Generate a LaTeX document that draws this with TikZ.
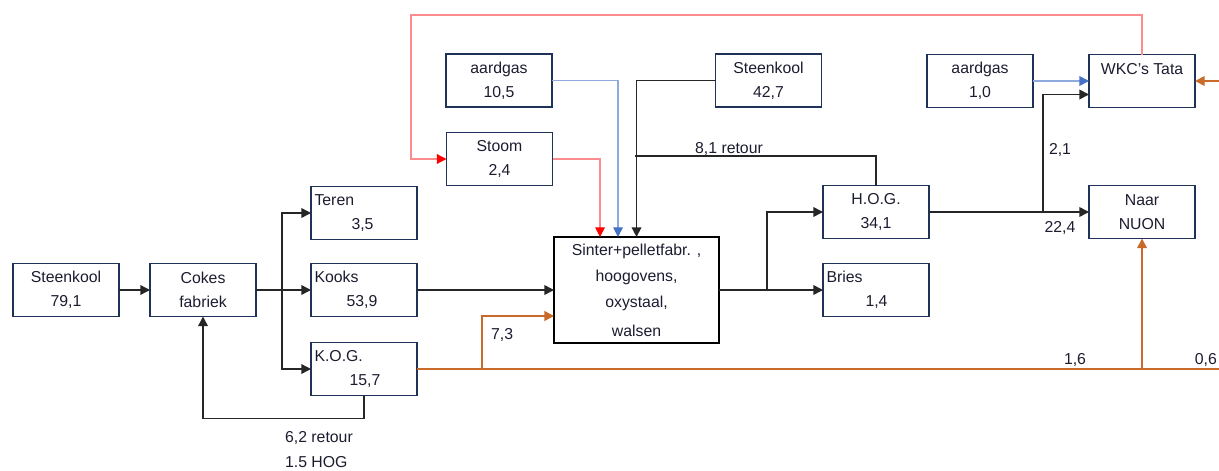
\documentclass[tikz,border=0pt]{standalone}
\usepackage{fontspec}
\setmainfont{Liberation Sans}
\usepackage{xcolor}
\usetikzlibrary{arrows.meta,positioning}

\definecolor{boxblue}{HTML}{1F3358}
\definecolor{txtdark}{HTML}{1C1C30}
\definecolor{flowred}{HTML}{FF8C8C}
\definecolor{flowblue}{HTML}{8FAADC}
\definecolor{tipblue}{HTML}{4472C4}
\definecolor{floworange}{HTML}{C96A2B}
\definecolor{flowgray}{HTML}{262626}

\begin{document}
\begin{tikzpicture}[
  node distance=0.5cm and 0.6cm,
  box/.style={draw=boxblue, line width=1.1pt, outer sep=0pt, minimum width=2.12cm, minimum height=1.06cm, align=center, text=txtdark, font=\fontsize{9}{13.5}\selectfont, inner sep=2pt},
  lbox/.style={box, align=left, text width=1.98cm},
  lbl/.style={font=\fontsize{9}{11}\selectfont, text=txtdark, inner sep=1pt},
  arr/.style={-{Triangle[length=5.5pt,width=5.5pt]}, line width=0.8pt, flowgray},
  line/.style={line width=0.8pt, flowgray},
  rarr/.style={-{Triangle[length=5.5pt,width=5.5pt,color=red]}, line width=0.7pt, flowred},
  barr/.style={-{Triangle[length=5.5pt,width=5.5pt,color=tipblue]}, line width=0.7pt, flowblue},
  oarr/.style={-{Triangle[length=5.5pt,width=5.5pt]}, line width=1.1pt, floworange},
  oline/.style={line width=1.1pt, floworange}
]
  \useasboundingbox (0,0) rectangle (24.38,9.4);

  % cokes side
  \node[box] (stk1) at (1.32,3.6) {Steenkool\\79,1};
  \node[box, right=0.62cm of stk1] (cokes) {Cokes\\fabriek};
  \node[lbox, right=1.1cm of cokes] (kooks) {Kooks\\\hspace*{0.64cm}53,9};
  \node[lbox, above=0.48cm of kooks] (teren) {Teren\\\hspace*{0.74cm}3,5};
  \node[lbox, below=0.52cm of kooks] (kog) {K.O.G.\\\hspace*{0.70cm}15,7};

  % steel works
  \node[box, draw=black, line width=1.6pt, minimum width=3.3cm, minimum height=2.12cm, font=\fontsize{9}{15}\selectfont, right=2.74cm of kooks] (sinter) {Sinter+pelletfabr. ,\\hoogovens,\\oxystaal,\\[1pt]walsen};
  \node[lbox, right=2.08cm of sinter] (bries) {Bries\\\hspace*{0.78cm}1,4};
  \node[box, above=0.5cm of bries] (hog) {H.O.G.\\34,1};
  \node[box, right=3.2cm of hog] (naar) {Naar\\NUON};
  \node[box, above=1.56cm of naar] (wkc) {WKC's Tata\\\mbox{}};
  \node[box, left=1.12cm of wkc] (gas2) {aardgas\\1,0};
  \node[box] (stk2) at (15.37,7.79) {Steenkool\\42,7};
  \node[box] (gas1) at (9.98,7.79) {aardgas\\10,5};
  \node[box] (stoom) at (9.99,6.22) {Stoom\\2,4};

  \coordinate (split1) at (5.64,3.6);
  \coordinate (split2) at (15.34,3.6);
  \coordinate (split3) at (20.86,5.16);
  \coordinate (osplit) at (9.64,2.02);
  \coordinate (oend) at (24.38,2.02);
  \coordinate (oin) at (24.38,7.78);
  \coordinate (join1) at (12.7,6.28);
  \coordinate (rtop) at (8.22,9.1);

  \draw[arr] (stk1) -- (cokes);
  \draw[arr] (cokes) -- (kooks);
  \draw[arr] (split1) |- (teren);
  \draw[arr] (split1) |- (kog);
  \draw[arr] (kog.south) -- ++(0,-0.46) -| (cokes.south);
  \node[lbl, anchor=west] (ret62) at (5.66,0.64) {6,2 retour};
  \node[lbl, anchor=west] (hog15) at (5.66,0.16) {1.5 HOG};

  \draw[arr] (kooks) -- (sinter);
  \draw[oline] (kog) -- (oend);
  \draw[oarr] (osplit) |- ([yshift=-0.52cm]sinter.west);
  \draw[oarr] (naar.south |- oend) -- (naar.south);
  \draw[oarr] (oin) -- (wkc);
  \node[lbl, anchor=west] (o73) at (9.78,2.7) {7,3};
  \node[lbl] (o16) at (21.5,2.2) {1,6};
  \node[lbl, anchor=east] (o06) at (24.38,2.2) {0,6};

  \draw[arr] (sinter) -- (bries);
  \draw[arr] (split2) |- (hog);
  \draw[arr] (hog) -- (naar);
  \draw[arr] (split3) |- ([yshift=-0.27cm]wkc.west);
  \node[lbl] (h21) at (21.2,6.4) {2,1};
  \node[lbl] (h224) at (21.2,4.84) {22,4};
  \draw[barr] (gas2) -- (wkc);

  % inputs from above
  \draw[barr] (gas1.east) -| ([xshift=-0.37cm]sinter.north);
  \draw[rarr] (stoom.east) -| ([xshift=-0.73cm]sinter.north);
  \draw[arr] (stk2.west) -| (sinter.north);
  \draw[line] (hog.north) |- (join1);
  \node[lbl] (r81) at (14.58,6.42) {8,1 retour};
  \draw[rarr] (wkc.north) |- (rtop) |- (stoom.west);
\end{tikzpicture}
\end{document}
